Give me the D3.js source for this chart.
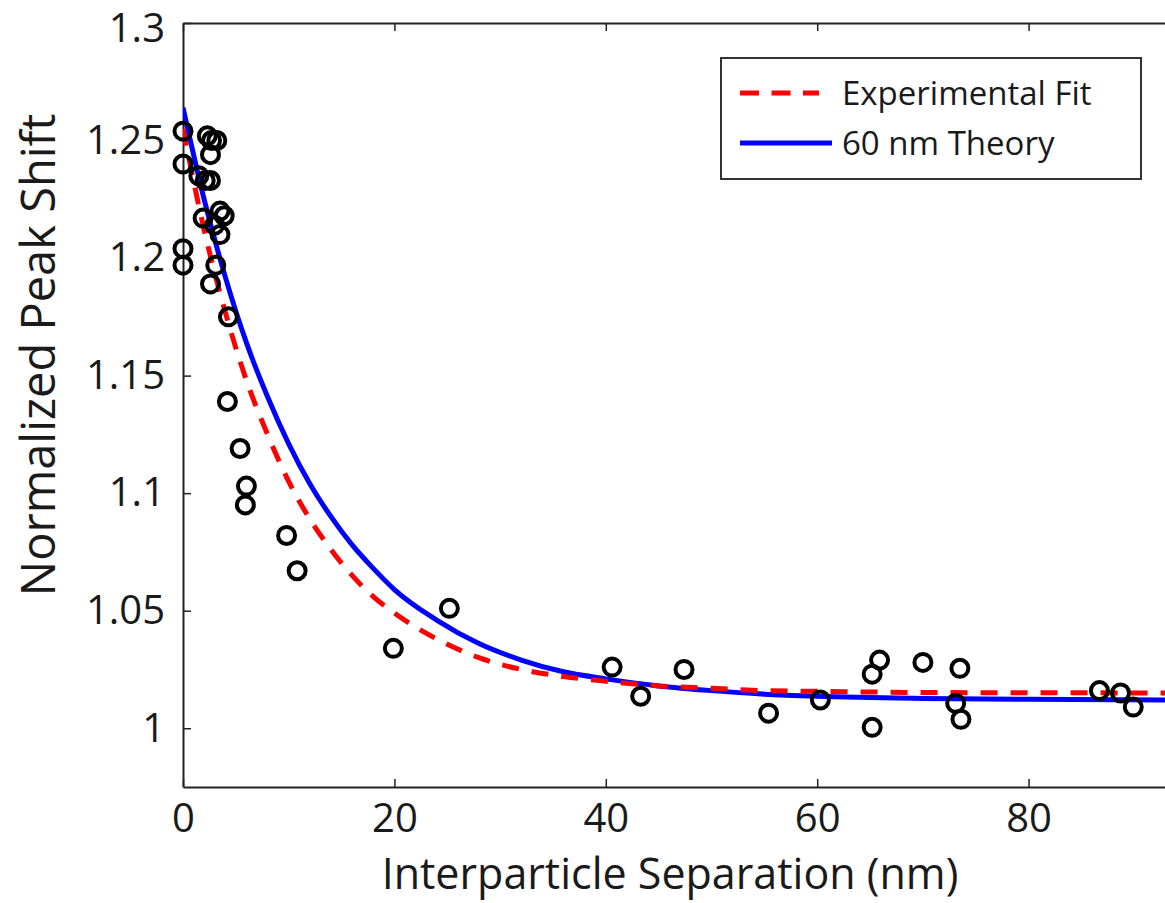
<!DOCTYPE html>
<html>
<head>
<meta charset="utf-8">
<script src="https://cdn.jsdelivr.net/npm/d3@7"></script>
<style>
  body { margin: 0; background: #fff; }
  svg { display: block; font-family: 'Open Sans', sans-serif; }
</style>
</head>
<body>
<div id="app"></div>
<script>
'use strict'

// measured points (separation in nm, normalized peak shift)
const sepData = [0, 0, 0, 0, 1.5, 2.3, 2.7, 3.2, 2.6, 2.1, 2.6, 1.9, 3.5, 3.9, 3.0, 3.5, 3.1, 2.6, 4.3,
	4.2, 5.4, 6.0, 5.9, 9.8, 10.8, 19.9, 25.2, 40.6, 43.3, 47.4, 55.4, 60.3, 65.2, 65.9, 65.2,
	70.0, 73.5, 73.1, 73.6, 86.7, 88.7, 89.9]
const shiftData = [1.254, 1.240, 1.204, 1.197, 1.235, 1.252, 1.250, 1.250, 1.244, 1.233, 1.233, 1.217, 1.220, 1.218, 1.214, 1.210, 1.197, 1.189, 1.175,
	1.139, 1.119, 1.103, 1.095, 1.082, 1.067, 1.034, 1.051, 1.026, 1.0136, 1.025, 1.0064, 1.012, 1.023, 1.029, 1.0004,
	1.028, 1.0255, 1.0106, 1.0038, 1.016, 1.015, 1.009]

// curves
const curveX = [0, 2, 4, 6, 8, 10, 12, 14, 16, 18, 20, 24, 28, 32, 36, 40, 45, 50, 55, 60, 70, 80, 93]
const fitY = [1.255, 1.212, 1.177, 1.148, 1.125, 1.105, 1.089, 1.076, 1.065, 1.056, 1.049, 1.038, 1.030, 1.025, 1.022, 1.020, 1.018, 1.017, 1.016, 1.0157, 1.0152, 1.0151, 1.015]
const theoryY = [1.264, 1.225, 1.192, 1.164, 1.141, 1.121, 1.104, 1.090, 1.078, 1.068, 1.059, 1.046, 1.036, 1.029, 1.024, 1.021, 1.018, 1.016, 1.0145, 1.0136, 1.0127, 1.0123, 1.012]

const xTicks = [0, 20, 40, 60, 80]
const xTickLabels = ['0', '20', '40', '60', '80']
const yTicks = [1, 1.05, 1.1, 1.15, 1.2, 1.25, 1.3]
const yTickLabels = ['1', '1.05', '1.1', '1.15', '1.2', '1.25', '1.3']

const legendNames = ['Experimental Fit', '60 nm Theory']

const W = 1165, H = 903
const margin = { top: 23, left: 183, bottom: 116 }
const plotW = 1057   // the right part of the frame falls outside the picture
const plotH = H - margin.top - margin.bottom

const svg = d3.select('#app').append('svg')
	.attr('width', W)
	.attr('height', H)
	.style('background-color', '#fff')

const g = svg.append('g')
	.attr('transform', `translate(${margin.left}, ${margin.top})`)

const xScale = d3.scaleLinear().domain([0, 100]).range([0, plotW])
const yScale = d3.scaleLinear().domain([0.975, 1.3]).range([plotH, 0])

g.append('clipPath').attr('id', 'clip')
	.append('rect').attr('width', plotW).attr('height', plotH)

/*
 * Axes: ticks point inward, like the original frame
 */
const axisStyle = sel => {
	sel.attr('font-family', null)
	sel.select('.domain').attr('stroke', '#222').attr('stroke-width', 2)
	sel.selectAll('.tick line').attr('stroke', '#222').attr('stroke-width', 1.5)
	sel.selectAll('.tick text')
		.attr('fill', '#1a1a1a')
		.style('font-family', "'Open Sans', sans-serif")
		.style('font-size', '40px')
}

g.append('g')
	.attr('class', 'x axis')
	.attr('transform', `translate(0, ${plotH})`)
	.call(d3.axisBottom(xScale)
		.tickValues(xTicks)
		.tickFormat((d, i) => xTickLabels[i])
		.tickSizeInner(-8)
		.tickSizeOuter(0)
		.tickPadding(17))
	.call(axisStyle)

g.append('g')
	.attr('class', 'top axis')
	.call(d3.axisTop(xScale)
		.tickValues(xTicks)
		.tickFormat('')
		.tickSizeInner(-8)
		.tickSizeOuter(0))
	.call(axisStyle)

g.append('g')
	.attr('class', 'y axis')
	.call(d3.axisLeft(yScale)
		.tickValues(yTicks)
		.tickFormat((d, i) => yTickLabels[i])
		.tickSizeInner(-8)
		.tickSizeOuter(0)
		.tickPadding(18))
	.call(axisStyle)

// the top label sits against the page edge; nudge it down a little
g.selectAll('.y.axis .tick text').filter(d => d === 1.3).attr('dy', '0.45em')

// axis titles
svg.append('text')
	.attr('x', 670)
	.attr('y', 889)
	.attr('text-anchor', 'middle')
	.style('font-size', '43px')
	.attr('fill', '#1a1a1a')
	.text('Interparticle Separation (nm)')

svg.append('text')
	.attr('transform', 'rotate(-90)')
	.attr('x', -355)
	.attr('y', 55)
	.attr('text-anchor', 'middle')
	.style('font-size', '47px')
	.attr('fill', '#1a1a1a')
	.text('Normalized Peak Shift')

/*
 * Curves
 */
const line = d3.line()
	.x(d => xScale(d[0]))
	.y(d => yScale(d[1]))
	.curve(d3.curveMonotoneX)

const curves = g.append('g').attr('clip-path', 'url(#clip)')

curves.append('path')
	.datum(curveX.map((x, i) => [x, theoryY[i]]))
	.attr('d', line)
	.attr('fill', 'none')
	.attr('stroke', '#0000ff')
	.attr('stroke-width', 5)

curves.append('path')
	.datum(curveX.map((x, i) => [x, fitY[i]]))
	.attr('d', line)
	.attr('fill', 'none')
	.attr('stroke', '#ff0000')
	.attr('stroke-width', 5)
	.attr('stroke-dasharray', '17,13')

/*
 * Measured points
 */
g.selectAll('.pt')
	.data(sepData.map((x, i) => [x, shiftData[i]]))
	.enter().append('circle')
	.attr('class', 'pt')
	.attr('cx', d => xScale(d[0]))
	.attr('cy', d => yScale(d[1]))
	.attr('r', 8.5)
	.attr('fill', 'none')
	.attr('stroke', '#000')
	.attr('stroke-width', 4)

/*
 * Legend
 */
const legend = svg.append('g').attr('transform', 'translate(721, 58)')

legend.append('rect')
	.attr('width', 420)
	.attr('height', 121)
	.attr('fill', '#fff')
	.attr('stroke', '#333')
	.attr('stroke-width', 2)

legend.append('line')
	.attr('x1', 19).attr('x2', 98)
	.attr('y1', 35).attr('y2', 35)
	.attr('stroke', '#ff0000')
	.attr('stroke-width', 5)
	.attr('stroke-dasharray', '19,12.5')

legend.append('line')
	.attr('x1', 19).attr('x2', 111)
	.attr('y1', 85).attr('y2', 85)
	.attr('stroke', '#0000ff')
	.attr('stroke-width', 5)

legend.selectAll('.lbl')
	.data(legendNames)
	.enter().append('text')
	.attr('class', 'lbl')
	.attr('x', 121)
	.attr('y', (d, i) => 47 + i * 50)
	.style('font-size', '33px')
	.attr('fill', '#1a1a1a')
	.text(d => d)
</script>
</body>
</html>
